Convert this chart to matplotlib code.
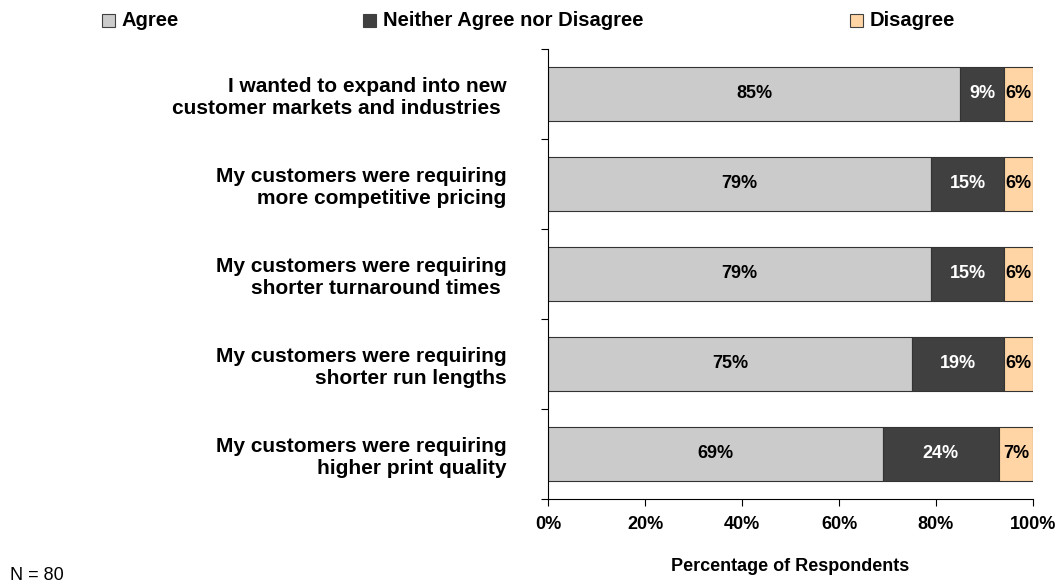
import matplotlib
matplotlib.use('Agg')
import matplotlib.pyplot as plt
from matplotlib.patches import Rectangle
import numpy as np

plt.rcParams['font.family'] = ['Liberation Sans', 'DejaVu Sans']

categories = ["I wanted to expand into new\ncustomer markets and industries ",
              "My customers were requiring\nmore competitive pricing",
              "My customers were requiring\nshorter turnaround times ",
              "My customers were requiring\nshorter run lengths",
              "My customers were requiring\nhigher print quality"]
agree = [85, 79, 79, 75, 69]
neither = [9, 15, 15, 19, 24]
disagree = [6, 6, 6, 6, 7]

series_names = ["Agree", "Neither Agree nor Disagree", "Disagree"]
colors = ["#CBCBCB", "#404040", "#FFD5A5"]
text_colors = ["black", "white", "black"]
legend_x = [102, 363, 850]

W, H = 1059, 584
fig = plt.figure(figsize=(W / 100, H / 100), dpi=100)
ax = fig.add_axes([548 / W, 1 - 499 / H, 485 / W, 450 / H])

y = np.arange(len(categories))
left = np.zeros(len(categories))
for vals, c, tc in zip([agree, neither, disagree], colors, text_colors):
    vals = np.array(vals, dtype=float)
    ax.barh(y, vals, left=left, height=0.6, color=c, edgecolor='#333333', linewidth=0.8)
    for yi, l, v in zip(y, left, vals):
        ax.text(l + v / 2, yi, "%d%%" % v, ha='center', va='center',
                color=tc, fontsize=13, fontweight='bold')
    left += vals

ax.set_xlim(0, 100)
ax.set_ylim(len(categories) - 0.5, -0.5)
ax.set_xticks(np.arange(0, 101, 20))
ax.set_xticklabels(["%d%%" % v for v in range(0, 101, 20)], fontsize=13, fontweight='bold')
ax.set_yticks(np.arange(-0.5, len(categories), 1))
ax.set_yticklabels([])
ax.set_yticks(y, minor=True)
ax.set_yticklabels(categories, minor=True, fontsize=15, fontweight='bold', linespacing=1.2)
ax.tick_params(axis='y', which='minor', length=0, pad=30)
ax.tick_params(axis='y', which='major', length=5, direction='out')
ax.tick_params(axis='x', length=5, direction='out', pad=7)
for s in ['top', 'right']:
    ax.spines[s].set_visible(False)
ax.spines['left'].set_color('black')
ax.spines['bottom'].set_color('black')
ax.set_xlabel("Percentage of Respondents", fontsize=13, fontweight='bold', labelpad=18)

# legend drawn in figure pixels
for name, c, xpx in zip(series_names, colors, legend_x):
    fig.patches.append(Rectangle((xpx / W, 1 - 27 / H), 13 / W, 13 / H,
                                 transform=fig.transFigure, facecolor=c,
                                 edgecolor='#404040', linewidth=0.8))
    fig.text((xpx + 20) / W, 1 - 20 / H, name, ha='left', va='center',
             fontsize=14.5, fontweight='bold')

fig.text(10 / W, 1 - 575 / H, "N = 80", ha='left', va='center', fontsize=13)

fig.savefig("out.png", dpi=100)
